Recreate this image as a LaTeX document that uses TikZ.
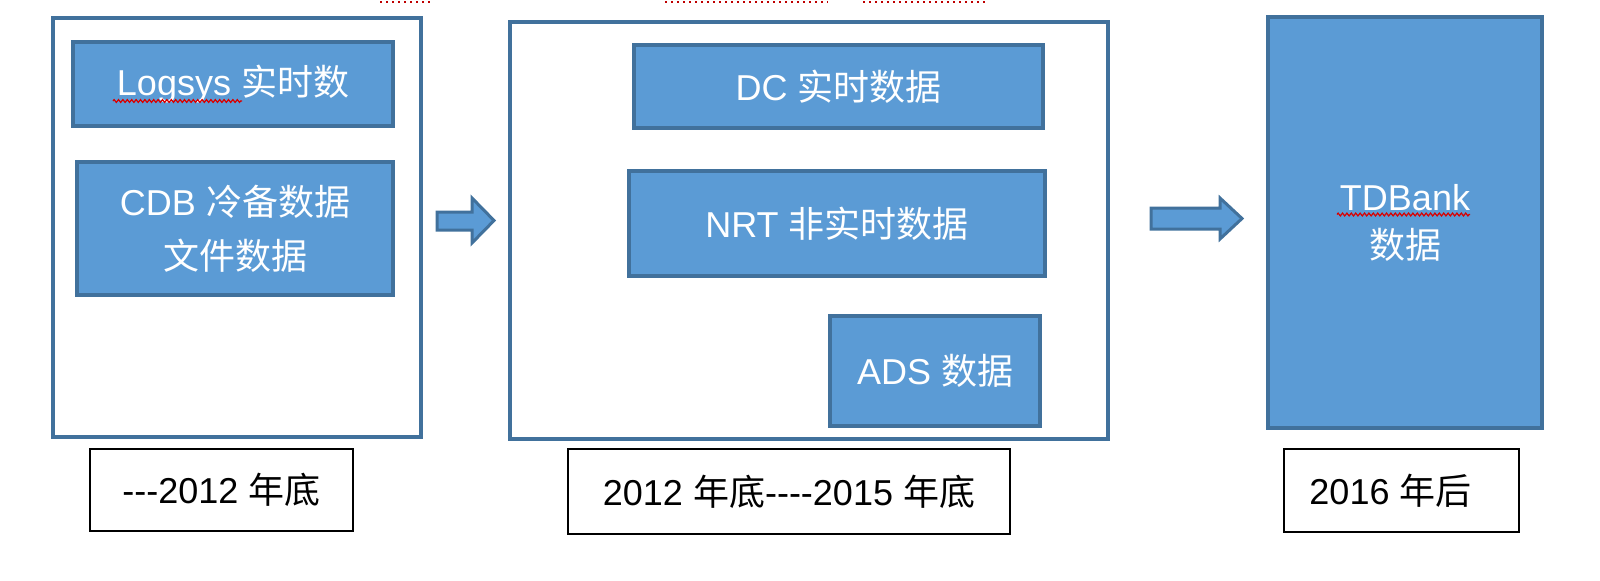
\documentclass[tikz,border=0pt]{standalone}
\usepackage{fontspec}
\setmainfont{Liberation Sans}
\newfontfamily\cjk{Noto Sans CJK SC}
\usepackage{xcolor}
\usetikzlibrary{positioning,decorations.pathmorphing}
\definecolor{boxfill}{HTML}{5B9BD5}
\definecolor{boxline}{HTML}{41719C}
\newcommand{\zhtxt}[1]{{\cjk #1}}

\begin{document}
\begin{tikzpicture}[
  x=0.5pt, y=-0.5pt,
  font=\fontsize{18}{27}\selectfont,
  era/.style={draw=boxline, line width=2pt, fill=white, inner sep=0pt},
  data/.style={draw=boxline, line width=2pt, fill=boxfill, text=white, align=center, inner sep=0pt},
  period/.style={draw=black, line width=1pt, fill=white, align=center, inner sep=0pt},
  flow/.style={draw=boxline, line width=1.5pt, fill=boxfill, line join=miter},
  typo/.style={red!85!black, line width=0.6pt, decorate, decoration={zigzag, segment length=2.2pt, amplitude=0.7pt}},
  hidden/.style={red!75!black, line width=1pt, dotted}
]
\useasboundingbox (0,0) rectangle (1600,580);
% cut-off marks along the top edge
\draw[hidden] (380,1.5) -- (430,1.5);
\draw[hidden] (665,1.5) -- (828,1.5);
\draw[hidden] (863,1.5) -- (987,1.5);
% eras
\node[era, minimum width=184pt, minimum height=209.5pt] (era1) at (237,227.5) {};
\node[era, minimum width=299pt, minimum height=208.5pt] (era2) at (809,230.5) {};
% data sources
\node[data, minimum width=160pt, minimum height=42pt] (logsys) at (233,84) {Logsys \zhtxt{实时数}};
\node[data, minimum width=158pt, minimum height=66.5pt] (cdb) at (235,228.5) {CDB \zhtxt{冷备数据}\\\zhtxt{文件数据}};
\node[data, minimum width=204.5pt, minimum height=41.5pt] (dc) at (838.5,86.5) {DC \zhtxt{实时数据}};
\node[data, minimum width=208pt, minimum height=52.5pt] (nrt) at (837,223.5) {NRT \zhtxt{非实时数据}};
\node[data, minimum width=105pt, minimum height=55pt] (ads) at (935,371) {ADS \zhtxt{数据}};
\node[data, minimum width=137pt, minimum height=205.5pt, font=\fontsize{18}{24}\selectfont] (tdbank) at (1405,222.5) {TDBank\\\zhtxt{数据}};
% periods
\node[period, minimum width=131.5pt, minimum height=41pt] (p1) at (221.5,490) {-{}-{}-2012 \zhtxt{年底}};
\node[period, minimum width=221pt, minimum height=42.5pt] (p2) at (789,491.5) {2012 \zhtxt{年底}-{}-{}-{}-2015 \zhtxt{年底}};
\node[period, minimum width=117.5pt, minimum height=41.5pt] (p3) at (1401.5,490.5) {2016 \zhtxt{年后}\hspace*{11pt}};
% block arrows
\draw[flow] (437,212) -- (472,212) -- (472,198) -- (494,220.5) -- (472,243) -- (472,230) -- (437,230) -- cycle;
\draw[flow] (1151,208) -- (1220,208) -- (1220,198) -- (1242,218.5) -- (1220,239) -- (1220,229) -- (1151,229) -- cycle;
% spell-check marks
\draw[typo] (113,101) -- (242,101);
\draw[typo] (1337,214.5) -- (1470,214.5);
\end{tikzpicture}
\end{document}
